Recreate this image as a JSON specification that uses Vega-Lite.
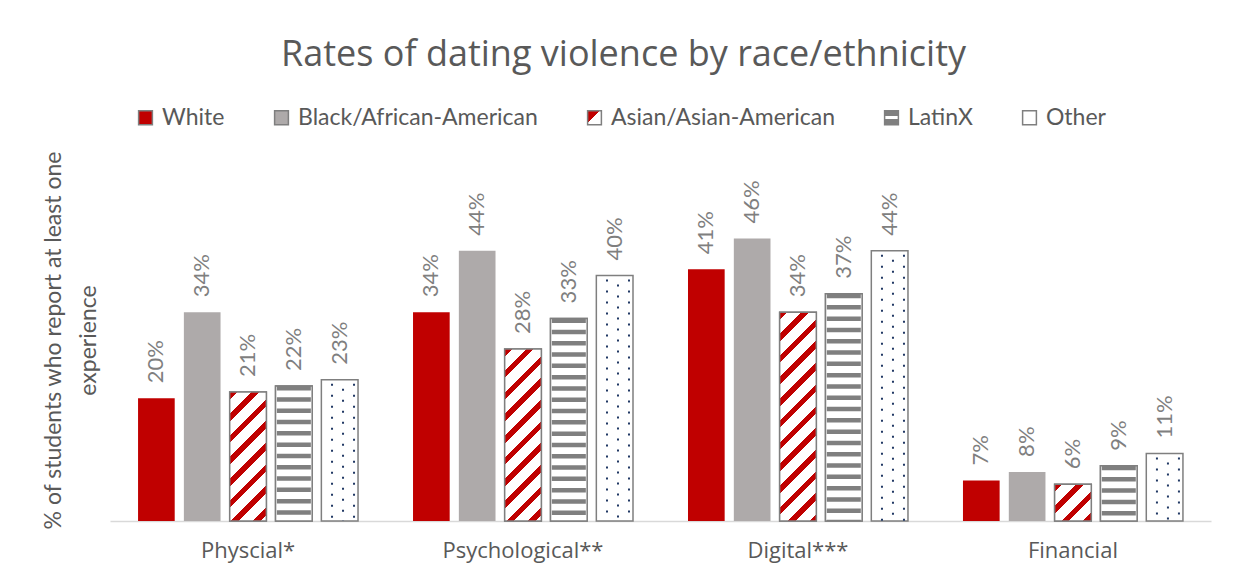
{
"$schema":"https://vega.github.io/schema/vega-lite/v6.json",
"width":1101,"height":307,"autosize":"none",
"padding":{"left":110,"top":214,"right":24,"bottom":58},
"background":"#FFFFFF",
"config":{"view":{"stroke":null},"font":"Lato"},
"title":{"text":"Rates of dating violence by race/ethnicity","font":"Open Sans","fontSize":36,"fontWeight":"normal","color":"#595959","anchor":"middle","offset":32,"dx":-37},
"data":{"values":[
{"category":"Physcial*","group":"White","rate":0.20},
{"category":"Physcial*","group":"Black/African-American","rate":0.34},
{"category":"Physcial*","group":"Asian/Asian-American","rate":0.21},
{"category":"Physcial*","group":"LatinX","rate":0.22},
{"category":"Physcial*","group":"Other","rate":0.23},
{"category":"Psychological**","group":"White","rate":0.34},
{"category":"Psychological**","group":"Black/African-American","rate":0.44},
{"category":"Psychological**","group":"Asian/Asian-American","rate":0.28},
{"category":"Psychological**","group":"LatinX","rate":0.33},
{"category":"Psychological**","group":"Other","rate":0.40},
{"category":"Digital***","group":"White","rate":0.41},
{"category":"Digital***","group":"Black/African-American","rate":0.46},
{"category":"Digital***","group":"Asian/Asian-American","rate":0.34},
{"category":"Digital***","group":"LatinX","rate":0.37},
{"category":"Digital***","group":"Other","rate":0.44},
{"category":"Financial","group":"White","rate":0.066},
{"category":"Financial","group":"Black/African-American","rate":0.08},
{"category":"Financial","group":"Asian/Asian-American","rate":0.06},
{"category":"Financial","group":"LatinX","rate":0.09},
{"category":"Financial","group":"Other","rate":0.11}
]},
"encoding":{
 "x":{"field":"category","type":"nominal","sort":["Physcial*","Psychological**","Digital***","Financial"],"scale":{"paddingInner":0.2,"paddingOuter":0.102},
   "axis":{"title":null,"labelAngle":0,"labelFont":"Open Sans","labelFontSize":22,"labelColor":"#595959","ticks":false,"tickSize":0,"labelPadding":19,"domainColor":"#D9D9D9","domainWidth":1.5}},
 "y":{"field":"rate","type":"quantitative","scale":{"domain":[0,0.5]},
   "axis":{"title":["% of students who report at least one","experience"],"labels":false,"ticks":false,"domain":false,"grid":false,"titleFont":"Lato","titleFontSize":23,"titleFontWeight":"normal","titleColor":"#595959","titleAngle":-90,"titleX":-57,"titleY":126,"titleAlign":"center","titleBaseline":"middle","titleLineHeight":35}}
},
"layer":[
 {"mark":{"type":"bar","strokeWidth":1.5},
  "encoding":{
   "xOffset":{"field":"group","type":"nominal","scale":{"domain":["White","Black/African-American","Asian/Asian-American","LatinX","Other"],"paddingInner":0.2,"paddingOuter":0}},
   "color":{"field":"group","type":"nominal","scale":{"domain":["White","Black/African-American","Asian/Asian-American","LatinX","Other"],
      "range":["#C00000","#AEAAAA",
        {"expr":"{gradient:'linear',x1:0,y1:0,x2:1,y2:1,stops:[{offset:0,color:'#C00000'},{offset:0.42,color:'#C00000'},{offset:0.42,color:'#FFFFFF'},{offset:1,color:'#FFFFFF'}]}"},
        {"expr":"{gradient:'linear',x1:0,y1:0,x2:0,y2:1,stops:[{offset:0,color:'#7F7F7F'},{offset:0.38,color:'#7F7F7F'},{offset:0.38,color:'#FFFFFF'},{offset:0.62,color:'#FFFFFF'},{offset:0.62,color:'#7F7F7F'},{offset:1,color:'#7F7F7F'}]}"},
        "#FFFFFF"]},
     "legend":{"title":null,"orient":"none","legendX":24,"legendY":-108,"direction":"horizontal","symbolType":"square","symbolSize":190,"symbolStrokeWidth":1.5,"labelFont":"Lato","labelFontSize":23,"labelColor":"#595959","columnPadding":45,"labelOffset":5,"labelLimit":400,
       "encode":{"symbols":{"update":{
         "stroke":[
           {"test":"datum.value==='White'||datum.value==='Black/African-American'","value":"transparent"},
           {"value":"#7F7F7F"}],
         "strokeWidth":{"value":1.5}}}}}},
   "stroke":{"condition":{"test":"datum.group!=='White'&&datum.group!=='Black/African-American'","value":"#7F7F7F"},"value":null}
  }},
 {"transform":[{"filter":"datum.group==='Asian/Asian-American'||datum.group==='LatinX'"}],
  "mark":{"type":"bar","stroke":"#7F7F7F","strokeWidth":1.5},
  "encoding":{
   "xOffset":{"field":"group","type":"nominal","scale":{"domain":["White","Black/African-American","Asian/Asian-American","LatinX","Other"],"paddingInner":0.2,"paddingOuter":0}},
   "fill":{"condition":[
     {"test":"datum.group==='Asian/Asian-American'&&datum.category==='Physcial*'","value":{"gradient":"linear","x1":0,"y1":0,"x2":0.3379,"y2":1.1883,"stops":[
       {"offset":0,"color":"#C00000"},{"offset":0.046,"color":"#C00000"},{"offset":0.046,"color":"#FFFFFF"},{"offset":0.131,"color":"#FFFFFF"},
       {"offset":0.131,"color":"#C00000"},{"offset":0.177,"color":"#C00000"},{"offset":0.177,"color":"#FFFFFF"},{"offset":0.262,"color":"#FFFFFF"},
       {"offset":0.262,"color":"#C00000"},{"offset":0.308,"color":"#C00000"},{"offset":0.308,"color":"#FFFFFF"},{"offset":0.393,"color":"#FFFFFF"},
       {"offset":0.393,"color":"#C00000"},{"offset":0.439,"color":"#C00000"},{"offset":0.439,"color":"#FFFFFF"},{"offset":0.524,"color":"#FFFFFF"},
       {"offset":0.524,"color":"#C00000"},{"offset":0.570,"color":"#C00000"},{"offset":0.570,"color":"#FFFFFF"},{"offset":0.655,"color":"#FFFFFF"},
       {"offset":0.655,"color":"#C00000"},{"offset":0.701,"color":"#C00000"},{"offset":0.701,"color":"#FFFFFF"},{"offset":0.786,"color":"#FFFFFF"},
       {"offset":0.786,"color":"#C00000"},{"offset":0.832,"color":"#C00000"},{"offset":0.832,"color":"#FFFFFF"},{"offset":0.917,"color":"#FFFFFF"},
       {"offset":0.917,"color":"#C00000"},{"offset":0.963,"color":"#C00000"},{"offset":0.963,"color":"#FFFFFF"},{"offset":1,"color":"#FFFFFF"}]}},
     {"test":"datum.group==='Asian/Asian-American'&&datum.category==='Psychological**'","value":{"gradient":"linear","x1":0,"y1":0,"x2":0.2475,"y2":1.1605,"stops":[
       {"offset":0,"color":"#C00000"},{"offset":0.036,"color":"#C00000"},{"offset":0.036,"color":"#FFFFFF"},{"offset":0.104,"color":"#FFFFFF"},
       {"offset":0.104,"color":"#C00000"},{"offset":0.140,"color":"#C00000"},{"offset":0.140,"color":"#FFFFFF"},{"offset":0.208,"color":"#FFFFFF"},
       {"offset":0.208,"color":"#C00000"},{"offset":0.244,"color":"#C00000"},{"offset":0.244,"color":"#FFFFFF"},{"offset":0.312,"color":"#FFFFFF"},
       {"offset":0.312,"color":"#C00000"},{"offset":0.348,"color":"#C00000"},{"offset":0.348,"color":"#FFFFFF"},{"offset":0.416,"color":"#FFFFFF"},
       {"offset":0.416,"color":"#C00000"},{"offset":0.452,"color":"#C00000"},{"offset":0.452,"color":"#FFFFFF"},{"offset":0.520,"color":"#FFFFFF"},
       {"offset":0.520,"color":"#C00000"},{"offset":0.556,"color":"#C00000"},{"offset":0.556,"color":"#FFFFFF"},{"offset":0.624,"color":"#FFFFFF"},
       {"offset":0.624,"color":"#C00000"},{"offset":0.660,"color":"#C00000"},{"offset":0.660,"color":"#FFFFFF"},{"offset":0.728,"color":"#FFFFFF"},
       {"offset":0.728,"color":"#C00000"},{"offset":0.764,"color":"#C00000"},{"offset":0.764,"color":"#FFFFFF"},{"offset":0.832,"color":"#FFFFFF"},
       {"offset":0.832,"color":"#C00000"},{"offset":0.868,"color":"#C00000"},{"offset":0.868,"color":"#FFFFFF"},{"offset":0.936,"color":"#FFFFFF"},
       {"offset":0.936,"color":"#C00000"},{"offset":0.972,"color":"#C00000"},{"offset":0.972,"color":"#FFFFFF"},{"offset":1,"color":"#FFFFFF"}]}},
     {"test":"datum.group==='Asian/Asian-American'&&datum.category==='Digital***'","value":{"gradient":"linear","x1":0,"y1":0,"x2":0.2003,"y2":1.1405,"stops":[
       {"offset":0,"color":"#C00000"},{"offset":0.031,"color":"#C00000"},{"offset":0.031,"color":"#FFFFFF"},{"offset":0.088,"color":"#FFFFFF"},
       {"offset":0.088,"color":"#C00000"},{"offset":0.119,"color":"#C00000"},{"offset":0.119,"color":"#FFFFFF"},{"offset":0.177,"color":"#FFFFFF"},
       {"offset":0.177,"color":"#C00000"},{"offset":0.208,"color":"#C00000"},{"offset":0.208,"color":"#FFFFFF"},{"offset":0.265,"color":"#FFFFFF"},
       {"offset":0.265,"color":"#C00000"},{"offset":0.296,"color":"#C00000"},{"offset":0.296,"color":"#FFFFFF"},{"offset":0.354,"color":"#FFFFFF"},
       {"offset":0.354,"color":"#C00000"},{"offset":0.385,"color":"#C00000"},{"offset":0.385,"color":"#FFFFFF"},{"offset":0.442,"color":"#FFFFFF"},
       {"offset":0.442,"color":"#C00000"},{"offset":0.473,"color":"#C00000"},{"offset":0.473,"color":"#FFFFFF"},{"offset":0.531,"color":"#FFFFFF"},
       {"offset":0.531,"color":"#C00000"},{"offset":0.562,"color":"#C00000"},{"offset":0.562,"color":"#FFFFFF"},{"offset":0.619,"color":"#FFFFFF"},
       {"offset":0.619,"color":"#C00000"},{"offset":0.650,"color":"#C00000"},{"offset":0.650,"color":"#FFFFFF"},{"offset":0.707,"color":"#FFFFFF"},
       {"offset":0.707,"color":"#C00000"},{"offset":0.738,"color":"#C00000"},{"offset":0.738,"color":"#FFFFFF"},{"offset":0.796,"color":"#FFFFFF"},
       {"offset":0.796,"color":"#C00000"},{"offset":0.827,"color":"#C00000"},{"offset":0.827,"color":"#FFFFFF"},{"offset":0.884,"color":"#FFFFFF"},
       {"offset":0.884,"color":"#C00000"},{"offset":0.915,"color":"#C00000"},{"offset":0.915,"color":"#FFFFFF"},{"offset":0.973,"color":"#FFFFFF"},
       {"offset":0.973,"color":"#C00000"},{"offset":1,"color":"#C00000"}]}},
     {"test":"datum.group==='Asian/Asian-American'&&datum.category==='Financial'","value":{"gradient":"linear","x1":0,"y1":0,"x2":0.9977,"y2":1.0023,"stops":[
       {"offset":0,"color":"#C00000"},{"offset":0.103,"color":"#C00000"},{"offset":0.103,"color":"#FFFFFF"},{"offset":0.295,"color":"#FFFFFF"},
       {"offset":0.295,"color":"#C00000"},{"offset":0.398,"color":"#C00000"},{"offset":0.398,"color":"#FFFFFF"},{"offset":0.590,"color":"#FFFFFF"},
       {"offset":0.590,"color":"#C00000"},{"offset":0.693,"color":"#C00000"},{"offset":0.693,"color":"#FFFFFF"},{"offset":0.886,"color":"#FFFFFF"},
       {"offset":0.886,"color":"#C00000"},{"offset":0.989,"color":"#C00000"},{"offset":0.989,"color":"#FFFFFF"},{"offset":1,"color":"#FFFFFF"}]}}
    ],"value":"#FFFFFF"}
  }},
 {"transform":[{"filter":"datum.group==='LatinX'"}],
  "mark":{"type":"rule","color":"#7F7F7F","strokeWidth":34,"strokeDash":[4.5,6.8],"strokeCap":"butt"},
  "encoding":{"x":{"field":"category","type":"nominal","sort":["Physcial*","Psychological**","Digital***","Financial"],"bandPosition":0.7083},"y2":{"datum":0}}},
 {"transform":[{"filter":"datum.group==='Other'"}],
  "mark":{"type":"rule","color":"#203864","strokeWidth":2,"strokeDash":[2,9],"strokeDashOffset":7,"strokeCap":"butt"},
  "encoding":{"x":{"field":"category","type":"nominal","sort":["Physcial*","Psychological**","Digital***","Financial"],"bandPosition":0.8818},"y2":{"datum":0}}},
 {"transform":[{"filter":"datum.group==='Other'"}],
  "mark":{"type":"rule","color":"#203864","strokeWidth":2,"strokeDash":[2,9],"strokeDashOffset":2,"strokeCap":"butt"},
  "encoding":{"x":{"field":"category","type":"nominal","sort":["Physcial*","Psychological**","Digital***","Financial"],"bandPosition":0.9318},"y2":{"datum":0}}},
 {"transform":[{"filter":"datum.group==='Other'"}],
  "mark":{"type":"rule","color":"#203864","strokeWidth":2,"strokeDash":[2,9],"strokeDashOffset":7,"strokeCap":"butt"},
  "encoding":{"x":{"field":"category","type":"nominal","sort":["Physcial*","Psychological**","Digital***","Financial"],"bandPosition":0.9818},"y2":{"datum":0}}},
 {"mark":{"type":"text","angle":270,"align":"left","baseline":"middle","dx":15,"font":"Lato","fontSize":22,"color":"#7F7F7F"},
  "encoding":{
   "xOffset":{"field":"group","type":"nominal","scale":{"domain":["White","Black/African-American","Asian/Asian-American","LatinX","Other"],"paddingInner":0.2,"paddingOuter":0}},
   "text":{"field":"rate","type":"quantitative","format":".0%"}}}
]
}
